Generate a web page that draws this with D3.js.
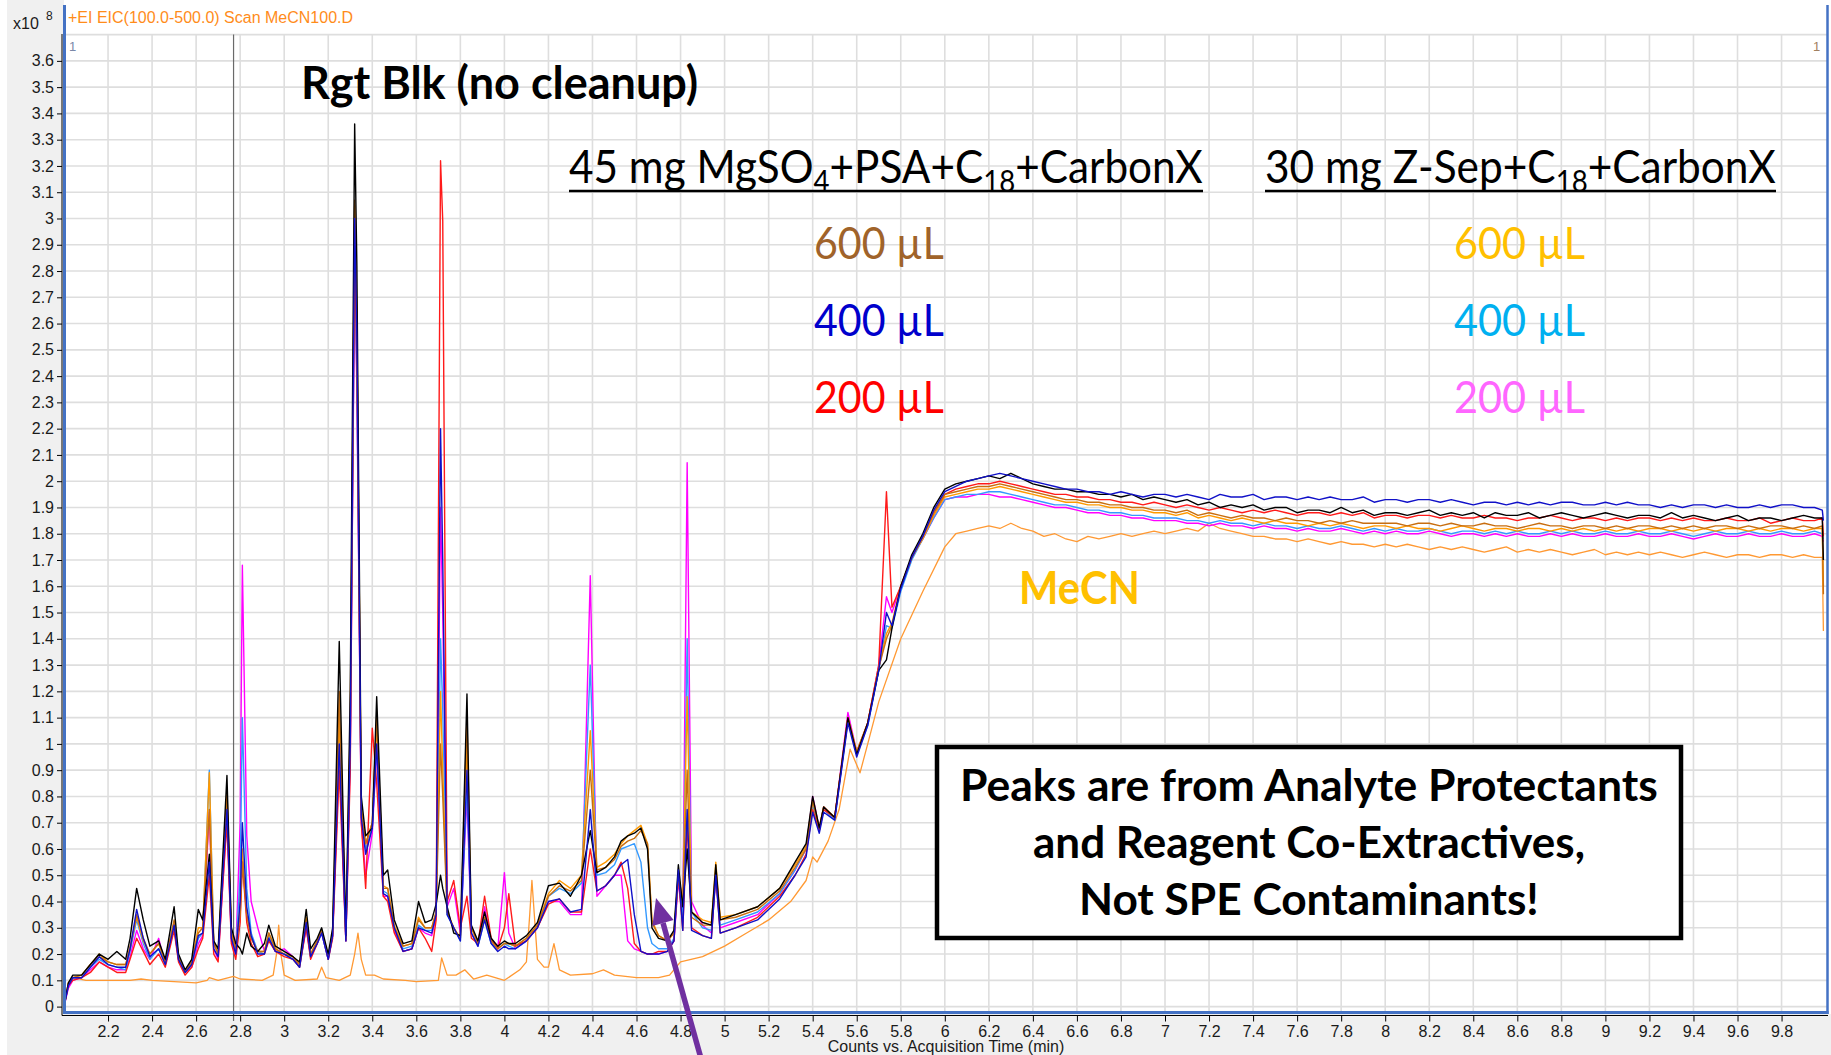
<!DOCTYPE html>
<html>
<head>
<meta charset="utf-8">
<script src="https://cdn.jsdelivr.net/npm/d3@7"></script>
<style>
  body { margin: 0; background: #fff; }
  svg { display: block; }
</style>
</head>
<body>
<div id="plot"></div>
<script>
// tick values
const X_TICKS = [2.2, 2.4, 2.6, 2.8, 3, 3.2, 3.4, 3.6, 3.8, 4, 4.2, 4.4, 4.6, 4.8, 5, 5.2, 5.4, 5.6, 5.8, 6,
  6.2, 6.4, 6.6, 6.8, 7, 7.2, 7.4, 7.6, 7.8, 8, 8.2, 8.4, 8.6, 8.8, 9, 9.2, 9.4, 9.6, 9.8];
const Y_TICKS = [0, 0.1, 0.2, 0.3, 0.4, 0.5, 0.6, 0.7, 0.8, 0.9, 1, 1.1, 1.2, 1.3, 1.4, 1.5, 1.6, 1.7, 1.8, 1.9,
  2, 2.1, 2.2, 2.3, 2.4, 2.5, 2.6, 2.7, 2.8, 2.9, 3, 3.1, 3.2, 3.3, 3.4, 3.5, 3.6];

// shared acquisition times (min) for the seven extract traces
const TIME = [
  2.0, 2.02, 2.04, 2.08, 2.12, 2.16, 2.2, 2.24, 2.28, 2.3,
  2.33, 2.36, 2.39, 2.43, 2.46, 2.5, 2.52, 2.55, 2.58, 2.61,
  2.63, 2.66, 2.68, 2.7, 2.72, 2.74, 2.76, 2.78, 2.8, 2.81,
  2.83, 2.85, 2.88, 2.91, 2.93, 2.96, 3.0, 3.04, 3.07, 3.1,
  3.12, 3.15, 3.17, 3.2, 3.22, 3.25, 3.28, 3.3, 3.32, 3.33,
  3.35, 3.37, 3.4, 3.42, 3.45, 3.47, 3.5, 3.54, 3.58, 3.61,
  3.64, 3.67, 3.69, 3.71, 3.72, 3.74, 3.77, 3.8, 3.83, 3.85,
  3.88, 3.91, 3.94, 3.97, 4.0, 4.02, 4.05, 4.1, 4.15, 4.2,
  4.25, 4.3, 4.35, 4.39, 4.42, 4.46, 4.5, 4.53, 4.56, 4.59,
  4.62, 4.65, 4.67, 4.7, 4.74, 4.77, 4.79, 4.81, 4.83, 4.85,
  4.9, 4.94, 4.96, 4.98, 5.05, 5.15, 5.25, 5.32, 5.37, 5.4,
  5.43, 5.45, 5.5, 5.56, 5.6, 5.65, 5.7, 5.735, 5.76, 5.8,
  5.85, 5.9, 5.95, 6.0,
  6.05, 6.1, 6.15, 6.2, 6.25, 6.3, 6.35, 6.4, 6.45, 6.5, 6.55, 6.6, 6.65, 6.7, 6.75, 6.8, 6.85, 6.9, 6.95, 7.0,
  7.05, 7.1, 7.15, 7.2, 7.25, 7.3, 7.35, 7.4, 7.45, 7.5, 7.55, 7.6, 7.65, 7.7, 7.75, 7.8, 7.85, 7.9, 7.95, 8.0,
  8.05, 8.1, 8.15, 8.2, 8.25, 8.3, 8.35, 8.4, 8.45, 8.5, 8.55, 8.6, 8.65, 8.7, 8.75, 8.8, 8.85, 8.9, 8.95, 9.0,
  9.05, 9.1, 9.15, 9.2, 9.25, 9.3, 9.35, 9.4, 9.45, 9.5, 9.55, 9.6, 9.65, 9.7, 9.75, 9.8, 9.85, 9.9, 9.95, 9.985,
  9.99];

// counts x10^8
const RGT_BLK = [
  0, 0.09, 0.12, 0.12, 0.16, 0.2, 0.18, 0.21, 0.18, 0.26,
  0.45, 0.33, 0.23, 0.25, 0.18, 0.38, 0.2, 0.14, 0.18, 0.37,
  0.33, 0.58, 0.25, 0.22, 0.55, 0.88, 0.3, 0.24, 0.22, 0.2,
  0.28, 0.23, 0.21, 0.24, 0.31, 0.23, 0.21, 0.19, 0.17, 0.37,
  0.22, 0.26, 0.3, 0.2, 0.3, 1.39, 0.27, 1.2, 3.36, 2.82,
  0.8, 0.65, 0.68, 1.18, 0.5, 0.52, 0.33, 0.24, 0.25, 0.4,
  0.32, 0.33, 0.39, 0.5, 0.45, 0.38, 0.28, 0.27, 1.19, 0.31,
  0.25, 0.36, 0.26, 0.23, 0.25, 0.24, 0.24, 0.27, 0.32, 0.46,
  0.47, 0.42, 0.5, 0.67, 0.51, 0.53, 0.57, 0.63, 0.65, 0.66,
  0.68, 0.6, 0.3, 0.26, 0.25, 0.29, 0.54, 0.38, 0.6, 0.36,
  0.32, 0.31, 0.54, 0.33, 0.35, 0.38, 0.45, 0.55, 0.62, 0.8,
  0.68, 0.76, 0.72, 1.1, 0.96, 1.08, 1.28, 1.32, 1.44, 1.6,
  1.72, 1.8, 1.9, 1.97,
  1.99, 2.00, 2.01, 2.02, 2.01, 2.03, 2.01, 1.99, 1.98, 1.97, 1.97, 1.96, 1.96, 1.95, 1.95, 1.94, 1.95, 1.93, 1.94, 1.93,
  1.92, 1.93, 1.91, 1.92, 1.90, 1.91, 1.90, 1.91, 1.89, 1.90, 1.90, 1.88, 1.89, 1.89, 1.88, 1.90, 1.88, 1.89, 1.87, 1.88,
  1.88, 1.87, 1.88, 1.89, 1.87, 1.88, 1.87, 1.88, 1.86, 1.88, 1.87, 1.87, 1.88, 1.86, 1.87, 1.88, 1.87, 1.86, 1.87, 1.88,
  1.87, 1.86, 1.87, 1.87, 1.86, 1.88, 1.86, 1.87, 1.86, 1.85, 1.86, 1.87, 1.85, 1.86, 1.86, 1.85, 1.86, 1.87, 1.86, 1.86,
  1.70];

const MG_600 = [
  0, 0.09, 0.11, 0.12, 0.16, 0.19, 0.17, 0.16, 0.16, 0.22,
  0.35, 0.26, 0.2, 0.24, 0.17, 0.33, 0.19, 0.13, 0.17, 0.28,
  0.3, 0.75, 0.24, 0.2, 0.5, 0.82, 0.28, 0.22, 0.35, 0.55,
  0.35, 0.26, 0.21, 0.21, 0.28, 0.22, 0.2, 0.19, 0.16, 0.33,
  0.2, 0.25, 0.29, 0.19, 0.28, 1.2, 0.26, 1.1, 3.07, 2.6,
  0.75, 0.62, 0.7, 1.1, 0.45, 0.45, 0.3, 0.23, 0.24, 0.33,
  0.3, 0.3, 0.36, 1.0, 0.8, 0.36, 0.3, 0.26, 1.1, 0.3,
  0.24, 0.34, 0.25, 0.22, 0.24, 0.24, 0.23, 0.26, 0.31, 0.42,
  0.46, 0.44, 0.48, 0.9, 0.52, 0.53, 0.56, 0.61, 0.63, 0.64,
  0.67, 0.62, 0.32, 0.27, 0.25, 0.28, 0.5, 0.4, 0.9, 0.34,
  0.31, 0.31, 0.52, 0.33, 0.34, 0.37, 0.44, 0.53, 0.6, 0.78,
  0.68, 0.76, 0.72, 1.1, 0.97, 1.08, 1.29, 1.4, 1.45, 1.6,
  1.71, 1.79, 1.88, 1.95,
  1.96, 1.97, 1.98, 1.98, 1.99, 1.98, 1.97, 1.96, 1.95, 1.94, 1.93, 1.93, 1.92, 1.92, 1.91, 1.91, 1.90, 1.90, 1.89, 1.89,
  1.88, 1.89, 1.87, 1.88, 1.87, 1.86, 1.87, 1.86, 1.86, 1.85, 1.86, 1.85, 1.85, 1.84, 1.85, 1.84, 1.85, 1.84, 1.84, 1.84,
  1.84, 1.83, 1.84, 1.84, 1.83, 1.84, 1.83, 1.83, 1.84, 1.83, 1.83, 1.82, 1.83, 1.84, 1.83, 1.83, 1.82, 1.83, 1.83, 1.82,
  1.83, 1.82, 1.83, 1.83, 1.82, 1.83, 1.82, 1.83, 1.82, 1.83, 1.83, 1.82, 1.83, 1.82, 1.83, 1.83, 1.82, 1.83, 1.82, 1.83,
  1.57];

const MG_400 = [
  0, 0.08, 0.11, 0.11, 0.15, 0.19, 0.16, 0.15, 0.15, 0.22,
  0.37, 0.26, 0.19, 0.22, 0.16, 0.31, 0.18, 0.13, 0.16, 0.27,
  0.28, 0.55, 0.22, 0.19, 0.48, 0.75, 0.26, 0.2, 0.4, 0.7,
  0.38, 0.27, 0.2, 0.2, 0.26, 0.21, 0.2, 0.18, 0.15, 0.32,
  0.19, 0.24, 0.28, 0.18, 0.27, 1.0, 0.25, 1.0, 3.0, 2.55,
  0.72, 0.58, 0.68, 1.0, 0.43, 0.42, 0.3, 0.21, 0.22, 0.3,
  0.29, 0.28, 0.35, 2.2, 1.7, 0.35, 0.3, 0.25, 0.9, 0.28,
  0.23, 0.33, 0.24, 0.21, 0.23, 0.22, 0.22, 0.25, 0.3, 0.4,
  0.41, 0.36, 0.37, 0.75, 0.44, 0.46, 0.5, 0.54, 0.56, 0.35,
  0.21, 0.2, 0.2, 0.2, 0.21, 0.25, 0.52, 0.29, 0.75, 0.29,
  0.27, 0.26, 0.5, 0.28, 0.3, 0.33, 0.41, 0.5, 0.57, 0.74,
  0.66, 0.74, 0.71, 1.08, 0.95, 1.07, 1.28, 1.5, 1.45, 1.59,
  1.71, 1.79, 1.89, 1.96,
  1.98, 2.00, 2.01, 2.02, 2.03, 2.02, 2.01, 2.00, 1.99, 1.98, 1.97, 1.97, 1.96, 1.96, 1.95, 1.96, 1.95, 1.94, 1.95, 1.95,
  1.94, 1.95, 1.94, 1.93, 1.95, 1.94, 1.94, 1.95, 1.93, 1.94, 1.94, 1.93, 1.94, 1.93, 1.94, 1.93, 1.93, 1.94, 1.92, 1.93,
  1.93, 1.92, 1.93, 1.93, 1.92, 1.93, 1.92, 1.91, 1.92, 1.92, 1.91, 1.92, 1.91, 1.92, 1.91, 1.92, 1.92, 1.91, 1.91, 1.92,
  1.91, 1.92, 1.91, 1.91, 1.90, 1.91, 1.90, 1.91, 1.91, 1.90, 1.91, 1.90, 1.90, 1.91, 1.90, 1.91, 1.91, 1.90, 1.90, 1.89,
  1.85];

const MG_200 = [
  0, 0.08, 0.10, 0.11, 0.13, 0.17, 0.15, 0.13, 0.13, 0.18,
  0.26, 0.21, 0.16, 0.2, 0.15, 0.29, 0.17, 0.12, 0.15, 0.22,
  0.26, 0.5, 0.2, 0.17, 0.45, 0.7, 0.24, 0.18, 0.32, 0.55,
  0.32, 0.24, 0.19, 0.2, 0.25, 0.21, 0.19, 0.18, 0.15, 0.3,
  0.18, 0.24, 0.29, 0.18, 0.26, 0.9, 0.25, 0.9, 2.9, 2.45,
  0.7, 0.45, 1.06, 0.85, 0.42, 0.4, 0.28, 0.21, 0.22, 0.3,
  0.26, 0.21, 0.33, 3.22, 2.99, 0.4, 0.48, 0.3, 0.42, 0.26,
  0.24, 0.42, 0.26, 0.22, 0.3, 0.43, 0.23, 0.25, 0.3, 0.39,
  0.41, 0.36, 0.36, 0.6, 0.44, 0.46, 0.5, 0.55, 0.45, 0.24,
  0.21, 0.2, 0.2, 0.21, 0.21, 0.25, 0.5, 0.29, 0.7, 0.3,
  0.27, 0.26, 0.5, 0.28, 0.3, 0.34, 0.42, 0.5, 0.58, 0.75,
  0.67, 0.75, 0.72, 1.09, 0.96, 1.08, 1.3, 1.96, 1.52, 1.6,
  1.71, 1.79, 1.88, 1.95,
  1.97, 1.98, 1.99, 1.99, 2.00, 1.99, 1.98, 1.97, 1.96, 1.95, 1.95, 1.94, 1.94, 1.93, 1.93, 1.92, 1.92, 1.91, 1.92, 1.91,
  1.90, 1.91, 1.90, 1.89, 1.90, 1.89, 1.88, 1.89, 1.88, 1.89, 1.88, 1.87, 1.88, 1.88, 1.87, 1.88, 1.87, 1.88, 1.86, 1.87,
  1.87, 1.86, 1.87, 1.87, 1.86, 1.87, 1.86, 1.86, 1.87, 1.86, 1.86, 1.85, 1.86, 1.86, 1.87, 1.86, 1.85, 1.86, 1.86, 1.85,
  1.86, 1.85, 1.86, 1.86, 1.85, 1.86, 1.85, 1.86, 1.85, 1.85, 1.86, 1.85, 1.85, 1.86, 1.84, 1.85, 1.86, 1.85, 1.85, 1.86,
  1.79];

const ZS_600 = [
  0, 0.09, 0.11, 0.12, 0.16, 0.2, 0.17, 0.16, 0.16, 0.23,
  0.34, 0.25, 0.2, 0.24, 0.17, 0.32, 0.19, 0.13, 0.17, 0.3,
  0.3, 0.89, 0.25, 0.2, 0.52, 0.8, 0.28, 0.22, 0.38, 0.6,
  0.35, 0.26, 0.21, 0.21, 0.28, 0.22, 0.2, 0.19, 0.16, 0.34,
  0.2, 0.25, 0.29, 0.19, 0.28, 1.1, 0.26, 1.05, 3.05, 2.6,
  0.76, 0.62, 0.7, 1.08, 0.46, 0.45, 0.31, 0.23, 0.24, 0.34,
  0.3, 0.3, 0.36, 1.2, 0.9, 0.36, 0.3, 0.26, 1.0, 0.3,
  0.24, 0.34, 0.25, 0.22, 0.24, 0.24, 0.23, 0.26, 0.31, 0.43,
  0.48, 0.45, 0.5, 1.05, 0.53, 0.55, 0.58, 0.62, 0.65, 0.67,
  0.69, 0.62, 0.33, 0.27, 0.25, 0.28, 0.5, 0.4, 1.18, 0.36,
  0.33, 0.32, 0.55, 0.34, 0.35, 0.38, 0.45, 0.54, 0.61, 0.79,
  0.68, 0.76, 0.72, 1.1, 0.97, 1.08, 1.29, 1.42, 1.46, 1.6,
  1.71, 1.78, 1.87, 1.94,
  1.95, 1.96, 1.97, 1.97, 1.98, 1.97, 1.96, 1.95, 1.94, 1.93, 1.92, 1.92, 1.91, 1.91, 1.90, 1.90, 1.89, 1.89, 1.88, 1.88,
  1.87, 1.88, 1.86, 1.87, 1.86, 1.85, 1.86, 1.85, 1.84, 1.85, 1.84, 1.84, 1.83, 1.84, 1.83, 1.84, 1.83, 1.82, 1.83, 1.83,
  1.82, 1.83, 1.82, 1.82, 1.81, 1.82, 1.83, 1.82, 1.81, 1.82, 1.82, 1.81, 1.82, 1.82, 1.81, 1.82, 1.81, 1.82, 1.81, 1.82,
  1.81, 1.82, 1.81, 1.82, 1.82, 1.81, 1.82, 1.81, 1.82, 1.81, 1.82, 1.82, 1.81, 1.82, 1.81, 1.82, 1.82, 1.81, 1.82, 1.82,
  1.60];

const ZS_400 = [
  0, 0.08, 0.11, 0.11, 0.15, 0.18, 0.16, 0.15, 0.14, 0.21,
  0.33, 0.24, 0.18, 0.22, 0.16, 0.3, 0.18, 0.13, 0.16, 0.26,
  0.28, 0.9, 0.24, 0.2, 0.5, 0.76, 0.27, 0.21, 0.5, 1.1,
  0.45, 0.28, 0.21, 0.2, 0.27, 0.21, 0.2, 0.18, 0.15, 0.31,
  0.19, 0.24, 0.28, 0.18, 0.27, 1.05, 0.25, 1.0, 2.85, 2.4,
  0.73, 0.6, 0.68, 1.0, 0.44, 0.43, 0.3, 0.22, 0.23, 0.31,
  0.29, 0.29, 0.35, 1.4, 1.13, 0.35, 0.3, 0.25, 0.85, 0.28,
  0.23, 0.33, 0.24, 0.22, 0.24, 0.23, 0.22, 0.25, 0.3, 0.42,
  0.45, 0.43, 0.47, 1.3, 0.5, 0.51, 0.54, 0.6, 0.61, 0.62,
  0.55, 0.3, 0.24, 0.22, 0.22, 0.26, 0.5, 0.35, 1.4, 0.36,
  0.3, 0.29, 0.5, 0.31, 0.33, 0.36, 0.43, 0.52, 0.6, 0.77,
  0.67, 0.75, 0.71, 1.09, 0.96, 1.07, 1.28, 1.45, 1.44, 1.58,
  1.7, 1.78, 1.86, 1.93,
  1.94, 1.95, 1.95, 1.96, 1.96, 1.95, 1.94, 1.93, 1.92, 1.91, 1.91, 1.90, 1.89, 1.89, 1.88, 1.88, 1.87, 1.87, 1.86, 1.86,
  1.86, 1.85, 1.85, 1.84, 1.85, 1.84, 1.84, 1.83, 1.84, 1.83, 1.83, 1.82, 1.83, 1.82, 1.82, 1.83, 1.82, 1.81, 1.82, 1.81,
  1.82, 1.81, 1.81, 1.82, 1.81, 1.80, 1.81, 1.81, 1.80, 1.81, 1.80, 1.81, 1.80, 1.80, 1.81, 1.80, 1.81, 1.80, 1.80, 1.81,
  1.80, 1.80, 1.81, 1.80, 1.80, 1.81, 1.80, 1.79, 1.80, 1.81, 1.80, 1.80, 1.81, 1.80, 1.80, 1.81, 1.80, 1.80, 1.81, 1.80,
  1.78];

const ZS_200 = [
  0, 0.07, 0.10, 0.11, 0.14, 0.17, 0.15, 0.14, 0.14, 0.19,
  0.29, 0.22, 0.18, 0.26, 0.16, 0.3, 0.18, 0.13, 0.15, 0.24,
  0.27, 0.74, 0.22, 0.18, 0.45, 0.72, 0.25, 0.2, 0.7, 1.68,
  0.65, 0.4, 0.3, 0.21, 0.26, 0.21, 0.22, 0.19, 0.16, 0.3,
  0.19, 0.24, 0.28, 0.18, 0.27, 0.95, 0.25, 0.95, 2.8, 2.35,
  0.7, 0.5, 0.66, 0.98, 0.42, 0.42, 0.29, 0.21, 0.22, 0.3,
  0.28, 0.27, 0.34, 1.9, 1.5, 0.38, 0.45, 0.28, 0.8, 0.28,
  0.23, 0.38, 0.25, 0.22, 0.51, 0.28, 0.22, 0.25, 0.3, 0.4,
  0.4, 0.35, 0.35, 1.64, 0.42, 0.46, 0.5, 0.5, 0.25, 0.22,
  0.21, 0.2, 0.2, 0.2, 0.21, 0.25, 0.48, 0.32, 2.07, 0.4,
  0.31, 0.28, 0.5, 0.3, 0.32, 0.35, 0.43, 0.52, 0.6, 0.8,
  0.68, 0.76, 0.72, 1.12, 0.97, 1.08, 1.3, 1.56, 1.5, 1.6,
  1.71, 1.78, 1.86, 1.93,
  1.94, 1.94, 1.95, 1.95, 1.94, 1.94, 1.93, 1.92, 1.91, 1.90, 1.90, 1.89, 1.88, 1.88, 1.87, 1.87, 1.86, 1.86, 1.85, 1.85,
  1.85, 1.84, 1.84, 1.83, 1.84, 1.83, 1.83, 1.82, 1.83, 1.82, 1.82, 1.81, 1.82, 1.81, 1.81, 1.82, 1.81, 1.80, 1.81, 1.80,
  1.81, 1.80, 1.80, 1.81, 1.80, 1.79, 1.80, 1.80, 1.79, 1.80, 1.79, 1.80, 1.79, 1.79, 1.80, 1.79, 1.80, 1.79, 1.79, 1.80,
  1.79, 1.79, 1.80, 1.79, 1.79, 1.80, 1.79, 1.78, 1.79, 1.80, 1.79, 1.79, 1.80, 1.79, 1.79, 1.80, 1.79, 1.79, 1.80, 1.79,
  1.77];

// MeCN solvent trace, [time, counts x10^8]
const MECN = [
  [2.0, 0], [2.02, 0.09], [2.04, 0.11], [2.1, 0.1], [2.15, 0.1], [2.2, 0.1], [2.3, 0.1], [2.35, 0.105], [2.4, 0.1],
  [2.5, 0.095], [2.6, 0.09], [2.65, 0.1], [2.66, 0.11], [2.7, 0.1], [2.77, 0.115], [2.8, 0.105], [2.9, 0.1],
  [2.95, 0.12], [2.965, 0.2], [2.975, 0.31], [2.985, 0.2], [3.0, 0.12], [3.05, 0.1], [3.15, 0.105], [3.17, 0.15],
  [3.19, 0.11], [3.25, 0.1], [3.3, 0.12], [3.32, 0.2], [3.335, 0.28], [3.35, 0.18], [3.37, 0.12], [3.41, 0.12],
  [3.45, 0.105], [3.55, 0.1], [3.6, 0.095], [3.7, 0.1], [3.715, 0.185], [3.74, 0.12], [3.78, 0.12], [3.82, 0.14],
  [3.86, 0.105], [3.92, 0.12], [4.0, 0.1], [4.07, 0.14], [4.1, 0.17], [4.115, 0.35], [4.125, 0.48], [4.14, 0.3],
  [4.15, 0.18], [4.18, 0.15], [4.2, 0.15], [4.225, 0.24], [4.25, 0.14], [4.3, 0.12], [4.4, 0.125], [4.45, 0.14],
  [4.5, 0.12], [4.6, 0.11], [4.7, 0.11], [4.75, 0.12], [4.8, 0.17], [4.9, 0.19], [5.0, 0.23], [5.1, 0.28],
  [5.2, 0.33], [5.3, 0.4], [5.37, 0.48], [5.4, 0.57], [5.42, 0.55], [5.47, 0.63], [5.52, 0.75], [5.57, 0.98],
  [5.615, 0.89], [5.65, 1.0], [5.7, 1.16], [5.8, 1.4], [5.9, 1.58], [6.0, 1.75],
  [6.05, 1.80], [6.1, 1.81], [6.15, 1.82], [6.2, 1.83], [6.25, 1.82], [6.3, 1.84], [6.35, 1.82], [6.4, 1.81],
  [6.45, 1.79], [6.5, 1.80], [6.55, 1.78], [6.6, 1.77], [6.65, 1.79], [6.7, 1.78], [6.75, 1.79], [6.8, 1.80],
  [6.85, 1.79], [6.9, 1.80], [6.95, 1.81], [7.0, 1.80], [7.05, 1.81], [7.1, 1.82], [7.15, 1.81], [7.2, 1.84],
  [7.25, 1.82], [7.3, 1.81], [7.35, 1.80], [7.4, 1.79], [7.45, 1.79], [7.5, 1.78], [7.55, 1.78], [7.6, 1.77],
  [7.65, 1.78], [7.7, 1.77], [7.75, 1.76], [7.8, 1.77], [7.85, 1.76], [7.9, 1.76], [7.95, 1.75], [8.0, 1.76],
  [8.05, 1.75], [8.1, 1.76], [8.15, 1.75], [8.2, 1.74], [8.25, 1.75], [8.3, 1.74], [8.35, 1.75], [8.4, 1.74],
  [8.45, 1.73], [8.5, 1.74], [8.55, 1.75], [8.6, 1.73], [8.65, 1.74], [8.7, 1.73], [8.75, 1.74], [8.8, 1.73],
  [8.85, 1.72], [8.9, 1.73], [8.95, 1.74], [9.0, 1.72], [9.05, 1.73], [9.1, 1.72], [9.15, 1.73], [9.2, 1.72],
  [9.25, 1.73], [9.3, 1.72], [9.35, 1.71], [9.4, 1.72], [9.45, 1.73], [9.5, 1.72], [9.55, 1.71], [9.6, 1.72],
  [9.65, 1.72], [9.7, 1.71], [9.75, 1.72], [9.8, 1.72], [9.85, 1.71], [9.9, 1.72], [9.95, 1.71], [9.985, 1.71],
  [9.99, 1.43]];

const W = 1831, H = 1055;
const FONT_UI = "'Liberation Sans', Arial, sans-serif";
const FONT_TXT = "Lato, 'Open Sans', sans-serif";

let svg = d3.select("#plot").append("svg")
  .attr("width", W).attr("height", H);

let x = d3.scaleLinear().domain([2, 10]).range([64, 1825.6]);
let y = d3.scaleLinear().domain([0, 3.7]).range([1006.6, 34.6]);

drawFrame();
drawTraces();
drawAxes();
drawNotes();

function drawFrame() {
  // grey panel strips like the instrument software
  svg.append("rect").attr("x", 7).attr("y", 0).attr("width", 57).attr("height", H).attr("fill", "#f0f0f0");
  svg.append("rect").attr("x", 7).attr("y", 1014).attr("width", W - 7).attr("height", H - 1014).attr("fill", "#f0f0f0");

  let grid = svg.append("g").attr("stroke", "#dedede").attr("stroke-width", 1.6);
  grid.selectAll("line.h")
    .data(Y_TICKS.concat([3.7]))
    .enter().append("line")
      .attr("x1", x(2)).attr("x2", 1827)
      .attr("y1", d => y(d)).attr("y2", d => y(d));
  grid.selectAll("line.v")
    .data(X_TICKS)
    .enter().append("line")
      .attr("x1", d => x(d)).attr("x2", d => x(d))
      .attr("y1", y(3.7)).attr("y2", 1012);

  // retention time cursor
  svg.append("line")
    .attr("x1", x(2.77)).attr("x2", x(2.77))
    .attr("y1", y(3.7)).attr("y2", 1021)
    .attr("stroke", "#6a6a6a").attr("stroke-width", 1.2);
}

function drawTraces() {
  svg.append("clipPath").attr("id", "clip")
    .append("rect").attr("x", 64).attr("y", 30).attr("width", 1763).attr("height", 982);

  let line = d3.line().x(d => x(d[0])).y(d => y(d[1]));
  let g = svg.append("g").attr("clip-path", "url(#clip)").attr("fill", "none")
    .attr("stroke-linejoin", "round");

  g.append("path").attr("d", line(MECN)).attr("stroke", "#ff9933").attr("stroke-width", 1.3);

  const traces = [
    [ZS_200, "#ff00ff"],
    [ZS_400, "#3399ff"],
    [ZS_600, "#ff9900"],
    [MG_200, "#ff1a1a"],
    [MG_600, "#c86e10"],
    [RGT_BLK, "#000000"],
    [MG_400, "#1010c8"]
  ];
  traces.forEach(function (t) {
    let pts = t[0].map((v, i) => [TIME[i], v]);
    g.append("path").attr("d", line(pts)).attr("stroke", t[1]).attr("stroke-width", 1.4);
  });
}

function drawAxes() {
  let yAxis = svg.append("g")
    .attr("transform", "translate(62,0)")
    .call(d3.axisLeft(y).tickValues(Y_TICKS).tickSize(5).tickPadding(3).tickFormat(d3.format("~g")));
  yAxis.select(".domain").remove();
  yAxis.selectAll("text").style("font-family", FONT_UI).style("font-size", "16px").attr("fill", "#1a1a1a");

  let xAxis = svg.append("g")
    .attr("transform", "translate(0,1015.5)")
    .call(d3.axisBottom(x).tickValues(X_TICKS).tickSize(6).tickPadding(4).tickFormat(d3.format("~g")));
  xAxis.select(".domain").remove();
  xAxis.selectAll("text").style("font-family", FONT_UI).style("font-size", "16px").attr("fill", "#1a1a1a");

  // axis lines: black rule + blue frame
  svg.append("line").attr("x1", 62).attr("x2", 62).attr("y1", 34).attr("y2", 1015.5).attr("stroke", "#000");
  svg.append("line").attr("x1", 62).attr("x2", 1828).attr("y1", 1015.5).attr("y2", 1015.5).attr("stroke", "#000");
  svg.append("line").attr("x1", 64.5).attr("x2", 64.5).attr("y1", 5).attr("y2", 1014)
    .attr("stroke", "#4472c4").attr("stroke-width", 3);
  svg.append("line").attr("x1", 63).attr("x2", 1828.5).attr("y1", 1012.5).attr("y2", 1012.5)
    .attr("stroke", "#4472c4").attr("stroke-width", 3);
  svg.append("line").attr("x1", 1827.5).attr("x2", 1827.5).attr("y1", 5).attr("y2", 1014)
    .attr("stroke", "#4472c4").attr("stroke-width", 2.5);

  svg.append("text").attr("x", 946).attr("y", 1052)
    .attr("text-anchor", "middle")
    .style("font-family", FONT_UI).style("font-size", "16px").attr("fill", "#1a1a1a")
    .text("Counts vs. Acquisition Time (min)");

  svg.append("text").attr("x", 13).attr("y", 29)
    .style("font-family", FONT_UI).style("font-size", "16px").attr("fill", "#1a1a1a").text("x10");
  svg.append("text").attr("x", 46).attr("y", 20)
    .style("font-family", FONT_UI).style("font-size", "12px").attr("fill", "#1a1a1a").text("8");

  svg.append("text").attr("x", 68).attr("y", 23)
    .style("font-family", FONT_UI).style("font-size", "16px").attr("fill", "#ff8c1a")
    .text("+EI EIC(100.0-500.0) Scan MeCN100.D");

  svg.append("text").attr("x", 69).attr("y", 51)
    .style("font-family", FONT_UI).style("font-size", "13px").attr("fill", "#7a88a8").text("1");
  svg.append("text").attr("x", 1813).attr("y", 51)
    .style("font-family", FONT_UI).style("font-size", "13px").attr("fill", "#a08060").text("1");
}

// squeeze/stretch a text node so it spans [left, left + width]
function fitText(t, left, width) {
  let bb = t.node().getBBox();
  t.attr("transform", "translate(" + left + ",0) scale(" + (width / bb.width) + ",1) translate(" + (-bb.x) + ",0)");
}

function addText(str, left, width, base, size, weight, color) {
  let t = svg.append("text").attr("x", 0).attr("y", base)
    .style("font-family", FONT_TXT).style("font-size", size + "px").style("font-weight", weight)
    .attr("fill", color).text(str);
  fitText(t, left, width);
  return t;
}

function addHeading(parts, left, width, base) {
  let t = svg.append("text").attr("x", 0).attr("y", base)
    .style("font-family", FONT_TXT).style("font-size", "46px").attr("fill", "#000");
  parts.forEach(function (p, i) {
    if (p[1]) {
      t.append("tspan").attr("dy", 9).style("font-size", "30px").text(p[0]);
    } else {
      t.append("tspan").attr("dy", i === 0 ? 0 : -9).text(p[0]);
    }
  });
  fitText(t, left, width);
  svg.append("line").attr("x1", left).attr("x2", left + width)
    .attr("y1", base + 8).attr("y2", base + 8)
    .attr("stroke", "#000").attr("stroke-width", 2.5);
}

function drawNotes() {
  addText("Rgt Blk (no cleanup)", 301, 397, 99, 46, 700, "#000");

  addHeading([["45 mg MgSO", false], ["4", true], ["+PSA+C", false], ["18", true], ["+CarbonX", false]], 569, 634, 183);
  addHeading([["30 mg Z-Sep+C", false], ["18", true], ["+CarbonX", false]], 1265, 511, 183);

  addText("600 \u00b5L", 814, 130, 259, 44, 400, "#a0632a");
  addText("400 \u00b5L", 814, 130, 336, 44, 400, "#0000cc");
  addText("200 \u00b5L", 814, 130, 413, 44, 400, "#ff0000");

  addText("600 \u00b5L", 1454, 131, 259, 44, 400, "#ffc000");
  addText("400 \u00b5L", 1454, 131, 336, 44, 400, "#00b0f0");
  addText("200 \u00b5L", 1454, 131, 413, 44, 400, "#ff66ff");

  addText("MeCN", 1019, 121, 604, 46, 700, "#ffc000");

  svg.append("rect").attr("x", 937).attr("y", 747).attr("width", 744).attr("height", 191)
    .attr("fill", "#fff").attr("stroke", "#000").attr("stroke-width", 4.5);
  addText("Peaks are from Analyte Protectants", 960, 698, 801, 44, 700, "#000");
  addText("and Reagent Co-Extractives,", 1033, 552, 858, 44, 700, "#000");
  addText("Not SPE Contaminants!", 1079, 460, 915, 44, 700, "#000");

  // purple arrow pointing at the 4.7 min drop
  let tail = [702, 1062], tip = [656, 898];
  let dx = tip[0] - tail[0], dy = tip[1] - tail[1];
  let len = Math.sqrt(dx * dx + dy * dy);
  let ux = dx / len, uy = dy / len;
  let bx = tip[0] - ux * 26, by = tip[1] - uy * 26;
  svg.append("line").attr("x1", tail[0]).attr("y1", tail[1]).attr("x2", bx).attr("y2", by)
    .attr("stroke", "#7030a0").attr("stroke-width", 5.5);
  svg.append("polygon")
    .attr("points", [tip, [bx - uy * 11, by + ux * 11], [bx + uy * 11, by - ux * 11]].map(p => p.join(",")).join(" "))
    .attr("fill", "#7030a0");
}
</script>
</body>
</html>
